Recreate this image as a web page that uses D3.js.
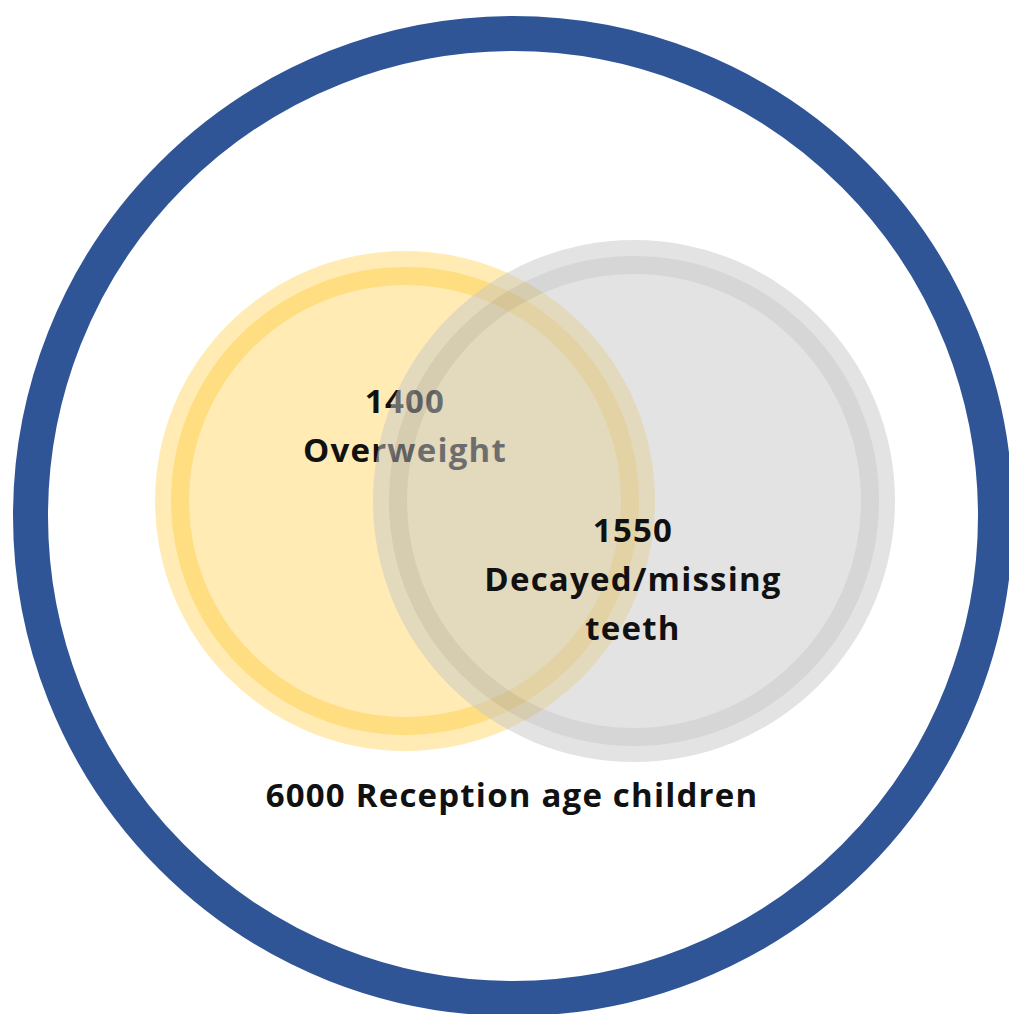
<!DOCTYPE html>
<html>
<head>
<meta charset="utf-8">
<script src="https://cdn.jsdelivr.net/npm/d3@7"></script>
<style>
  html, body { margin: 0; padding: 0; background: #fff; }
  svg { display: block; }
  text { font-family: "Open Sans", Lato, sans-serif; font-weight: bold; fill: #111; letter-spacing: 1.2px; }
</style>
</head>
<body>
<svg id="chart"></svg>
<script>
// venn data
const groups = ["Overweight", "Decayed/missing teeth"];
const counts = [1400, 1550];
const totalLabel = "Reception age children";
const totalCount = 6000;

const width = 1009, height = 1014;
const svg = d3.select("#chart").attr("width", width).attr("height", height);
const fontSize = 33;

// outer ring = whole population
const outer = {cx: 513, cy: 516, r: 482.5};
svg.append("circle")
    .attr("cx", outer.cx).attr("cy", outer.cy).attr("r", outer.r)
    .attr("fill", "none")
    .attr("stroke", "#2F5597")
    .attr("stroke-width", 35);

// set circles, placed by hand like the original
const sets = [
  {cx: 405, cy: 501, r: 250, fill: "#FFD767", ring: "#FFC000", opacity: 1, fillOp: 0.5, ringOp: 0.28,
   lines: [String(counts[0]), groups[0]], lx: 405, ly: 413},
  {cx: 634, cy: 501, r: 261, fill: "#C8C8C8", ring: "#AEAEAE", opacity: 0.5, fillOp: 1, ringOp: 1,
   lines: [String(counts[1]), "Decayed/missing", "teeth"], lx: 633, ly: 542}
];
const lineGap = 49;

sets.forEach(s => {
  const g = svg.append("g").attr("opacity", s.opacity);
  g.append("circle")
      .attr("cx", s.cx).attr("cy", s.cy).attr("r", s.r)
      .attr("fill", s.fill).attr("fill-opacity", s.fillOp);
  g.append("circle")
      .attr("cx", s.cx).attr("cy", s.cy).attr("r", s.r - 25)
      .attr("fill", "none")
      .attr("stroke", s.ring).attr("stroke-opacity", s.ringOp)
      .attr("stroke-width", 18);
  // label sits under the next circle, so draw it now
  svg.selectAll(null)
      .data(s.lines)
      .enter().append("text")
      .attr("x", s.lx)
      .attr("y", (d, i) => s.ly + i * lineGap)
      .attr("text-anchor", "middle")
      .attr("font-size", fontSize)
      .text(d => d);
});

svg.append("text")
    .attr("x", 512).attr("y", 807)
    .attr("text-anchor", "middle")
    .attr("font-size", fontSize)
    .text(totalCount + " " + totalLabel);
</script>
</body>
</html>
